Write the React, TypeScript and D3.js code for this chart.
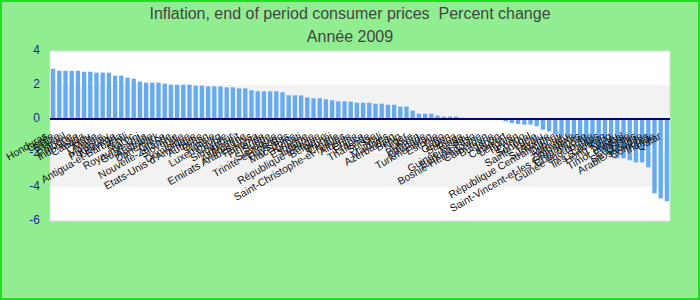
import React from "react";
import * as d3 from "d3";

const countries: string[] = [
  "Honduras", "Corée", "Belize", "Israël", "Pologne", "Indonésie", "Canada", "Pérou", "Malte", "Malaisie",
  "Paraguay", "Norvège", "Antigua-et-Barbuda", "Chili", "Maroc", "Royaume-Uni", "Guatemala", "Australie", "Danemark", "Grèce",
  "Nouvelle-Zélande", "Slovénie", "Italie", "Dominique", "Etats-Unis d'Amérique", "Autriche", "Oman", "Tunisie", "Luxembourg", "Chypre",
  "Singapour", "Koweït", "Allemagne", "Emirats Arabes Unis", "Panama", "Finlande", "Suède", "Slovaquie", "Trinité-et-Tobago", "Pays-Bas",
  "Macédoine", "Kiribati", "Espagne", "Lituanie", "République tchèque", "Belgique", "Brunéi", "Croatie", "Saint-Christophe-et-Niévès", "Albanie",
  "Chine", "France", "Thaïlande", "Suisse", "Mali", "Maldives", "Azerbaïdjan", "Bénin", "Niger", "Libye",
  "Bahreïn", "Grenade", "Turkménistan", "Estonie", "Togo", "Gabon", "Samoa", "Tonga", "Guinée-Bissau", "Burkina Faso",
  "Bosnie-Herzégovine", "Cameroun", "Bulgarie", "Japon", "Cap-Vert", "Lettonie", "Taïwan", "Congo", "Sénégal", "Sainte-Lucie",
  "Tuvalu", "Suriname", "République Centrafricaine", "Djibouti", "Vanuatu", "Zimbabwe", "Saint-Vincent-et-les Grenadines", "Côte d'Ivoire", "Guinée équatoriale", "Palaos",
  "Îles Salomon", "Hong Kong", "Nauru", "Timor oriental", "Erythrée", "Seychelles", "Arabie saoudite", "Comores", "Irlande", "Qatar",
];

const inflation: number[] = [
  2.96, 2.84, 2.84, 2.84, 2.84, 2.78, 2.78, 2.73, 2.73, 2.73,
  2.55, 2.55, 2.43, 2.37, 2.2, 2.14, 2.14, 2.14, 2.08, 2.02,
  2.02, 2.02, 2.02, 1.96, 1.96, 1.92, 1.92, 1.92, 1.86, 1.86,
  1.8, 1.8, 1.69, 1.63, 1.63, 1.63, 1.63, 1.57, 1.39, 1.39,
  1.39, 1.27, 1.22, 1.22, 1.16, 1.1, 1.04, 1.04, 1.02, 0.96,
  0.96, 0.96, 0.9, 0.9, 0.84, 0.84, 0.73, 0.73, 0.49, 0.31,
  0.31, 0.31, 0.2, 0.14, 0.14, 0.14, 0.07, 0, 0, 0,
  0, 0, 0, -0.14, -0.24, -0.29, -0.33, -0.33, -0.43, -0.63,
  -0.73, -0.9, -1.0, -1.1, -1.2, -1.35, -1.5, -1.65, -1.8, -1.95,
  -2.1, -2.31, -2.31, -2.43, -2.55, -2.55, -2.84, -4.37, -4.67, -4.84,
];

const yTicks: number[] = [4, 2, 0, -2, -4, -6];
const bandRanges: [number, number][] = [[0, 2], [-4, -2]];
const title1 = "Inflation, end of period consumer prices  Percent change";
const title2 = "Année 2009";

export default function App() {
  const W = 700, H = 300;
  const x = d3.scaleBand<string>().domain(countries).range([50, 670]).paddingInner(0.3).paddingOuter(0.15);
  const y = d3.scaleLinear().domain([-6, 4]).range([221, 51]);
  const font = "'Liberation Sans', Arial, sans-serif";
  return (
    <svg width={W} height={H} style={{ position: "absolute", left: 0, top: 0 }} fontFamily={font}>
      <rect x={1} y={1} width={W - 2} height={H - 2} fill="#90ee90" stroke="#22dd22" strokeWidth={2} />
      <rect x={50} y={51} width={620} height={y(-6) - 51} fill="#ffffff" />
      {bandRanges.map(([a, b], i) => (
        <rect key={i} x={50} y={y(b)} width={620} height={y(a) - y(b)} fill="#f2f2f2" />
      ))}
      <rect x={50} y={51} width={620} height={y(-6) - 51} fill="none" stroke="#d8d8d8" strokeWidth={1} />
      {countries.map((c, i) => {
        const v = inflation[i];
        const y0 = y(Math.max(0, v));
        const y1 = y(Math.min(0, v));
        return <rect key={c} x={x(c)} y={y0} width={x.bandwidth()} height={Math.max(0, y1 - y0)} fill="#66aaf0" />;
      })}
      <line x1={50} x2={670} y1={y(0)} y2={y(0)} stroke="#000080" strokeWidth={2} />
      {yTicks.map((t) => (
        <text key={t} x={40} y={y(t)} textAnchor="end" dominantBaseline="middle" fontSize={12} fill="#1c1ca0">
          {t}
        </text>
      ))}
      {countries.map((c) => {
        const cx = (x(c) as number) + x.bandwidth() / 2;
        return (
          <text key={"l" + c} transform={`translate(${cx - 5},${138}) rotate(-30)`} textAnchor="end" fontSize={10.5} fill="#111">
            {c}
          </text>
        );
      })}
      <text x={350} y={19} textAnchor="middle" fontSize={16} fill="#444" style={{ whiteSpace: "pre" }}>{title1}</text>
      <text x={350} y={42} textAnchor="middle" fontSize={16} fill="#444">{title2}</text>
    </svg>
  );
}
